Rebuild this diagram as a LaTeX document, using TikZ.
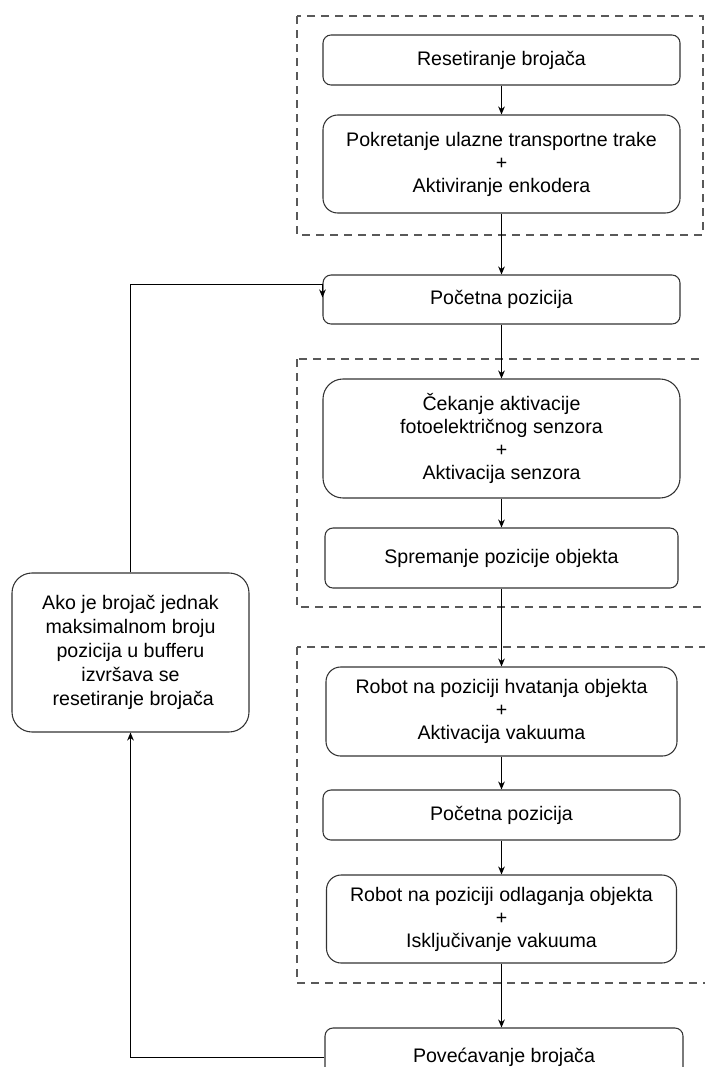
\documentclass[tikz,border=0pt]{standalone}
\usepackage{fontspec}
\setmainfont{Liberation Sans}
\usetikzlibrary{arrows.meta}

\begin{document}
\begin{tikzpicture}[
  x=0.75pt, y=-0.75pt,
  >={Stealth[length=6pt,width=5pt]},
  every node/.style={font=\fontsize{14.7}{17.3}\selectfont},
  box/.style={draw=black!80,line width=0.8pt,rounded corners=#1,align=center},
  box/.default=6pt,
  group/.style={draw=black!65,line width=0.8pt,dash pattern=on 6pt off 4.5pt},
  arrow/.style={->,line width=0.75pt}
]
  \useasboundingbox (0,0) rectangle (705,1067);
  \clip (0,0) rectangle (705,1067);
  \draw[group] (297,16) rectangle (703,235);
  \draw[group] (297,359) rectangle (712,607);
  \draw[group] (297,647) rectangle (712,983);
  \node[box,minimum width=267.75pt,minimum height=37.5pt] (reset) at (501.5,60) {Resetiranje brojača};
  \node[box=11pt,minimum width=267.75pt,minimum height=73.5pt] (pokret) at (501.5,164) {Pokretanje ulazne transportne trake\\+\\Aktiviranje enkodera};
  \node[box,minimum width=267.75pt,minimum height=36.75pt] (poc1) at (501.5,299.5) {Početna pozicija};
  \node[box=15pt,minimum width=267.75pt,minimum height=89.25pt] (cekanje) at (501.5,438.5) {Čekanje aktivacije\\fotoelektričnog senzora\\+\\Aktivacija senzora};
  \node[box,minimum width=264.75pt,minimum height=45pt] (sprem) at (501.5,558) {Spremanje pozicije objekta};
  \node[box=11pt,minimum width=263.25pt,minimum height=66.75pt] (hvat) at (501.5,711.5) {Robot na poziciji hvatanja objekta\\+\\Aktivacija vakuuma};
  \node[box,minimum width=267.75pt,minimum height=37.5pt] (poc2) at (501.5,815) {Početna pozicija};
  \node[box=11pt,minimum width=262.5pt,minimum height=66pt] (odlag) at (501.5,919) {Robot na poziciji odlaganja objekta\\+\\Isključivanje vakuuma};
  \node[box,minimum width=268.5pt,minimum height=43.5pt] (povec) at (504,1057) {Povećavanje brojača};
  \node[box=15pt,minimum width=177.75pt,minimum height=119.25pt,font=\fontsize{14.7}{18}\selectfont] (uvjet) at (130.5,652.5) {Ako je brojač jednak\\maksimalnom broju\\pozicija u bufferu\\izvršava se\hspace*{0.28em}\\\hspace*{0.28em}resetiranje brojača};
  \draw[arrow] (reset) -- (pokret);
  \draw[arrow] (pokret) -- (poc1);
  \draw[arrow] (poc1) -- (cekanje);
  \draw[arrow] (cekanje) -- (sprem);
  \draw[arrow] (sprem) -- (hvat);
  \draw[arrow] (hvat) -- (poc2);
  \draw[arrow] (poc2) -- (odlag);
  \draw[arrow] (odlag.south) -- (odlag.south |- povec.north);
  \draw[arrow] (povec.west) -| (uvjet.south);
  \coordinate (ulaz) at ([yshift=-7.5pt]poc1.north west);
  \draw[arrow] (uvjet.north) |- (ulaz) -- ++(0,13);
\end{tikzpicture}
\end{document}
